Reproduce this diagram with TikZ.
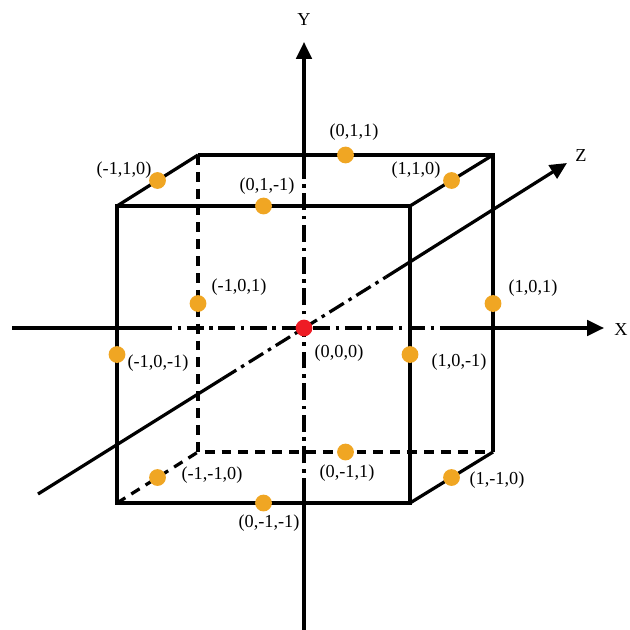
\documentclass[tikz,border=0pt]{standalone}
\usepackage{fontspec}
\setmainfont{Liberation Serif}
\usetikzlibrary{arrows.meta,calc}
\definecolor{ptorange}{HTML}{F0A623}
\definecolor{ptred}{HTML}{EE1C25}
\tikzset{
    edge/.style={line width=2.3pt},
    hidden/.style={edge, dash pattern=on 7pt off 5pt},
    axisline/.style={line width=2.3pt},
    axisdash/.style={axisline, dash pattern=on 12pt off 4pt on 2.5pt off 4pt},
    axisarrow/.style={axisline, -{Triangle[length=12pt,width=11pt]}},
    vtx/.style={circle, fill=ptorange, inner sep=0pt, minimum size=0.42cm},
    origin/.style={circle, fill=ptred, inner sep=0pt, minimum size=0.42cm},
    lbl/.style={font=\fontsize{13}{15}\selectfont, inner sep=0pt},
}
\begin{document}
\begin{tikzpicture}[x=0.025cm, y=-0.025cm]
    \useasboundingbox (0,0) rectangle (630,630);
    % cube corners
    \coordinate (F1) at (117,206);
    \coordinate (F2) at (410,206);
    \coordinate (F3) at (410,503);
    \coordinate (F4) at (117,503);
    \coordinate (B1) at (198,155);
    \coordinate (B2) at (493,155);
    \coordinate (B3) at (493,452);
    \coordinate (B4) at (198,452);
    % cube
    \draw[edge] (F1) -- (F2) -- (F3) -- (F4) -- cycle;
    \draw[edge] (B1) -- (B2) -- (B3);
    \draw[edge] (F1) -- (B1);
    \draw[edge] (F2) -- (B2);
    \draw[edge] (F3) -- (B3);
    \draw[hidden] (B1) -- (B4) -- (B3);
    \draw[hidden] (F4) -- (B4);
    % axes
    \coordinate (xl) at (12,328);
    \coordinate (xa) at (155,328);
    \coordinate (xb) at (453,328);
    \coordinate (xr) at (604,328);
    \coordinate (yb) at (304,630);
    \coordinate (ya) at (304,495);
    \coordinate (yc) at (304,162);
    \coordinate (yt) at (304,42);
    \coordinate (zl) at (38,494);
    \coordinate (za) at (222,379);
    \coordinate (zb) at (386,277);
    \coordinate (zt) at (567,163);
    \draw[axisline] (xl) -- (xa);
    \draw[axisdash] (xa) -- (xb);
    \draw[axisarrow] (xb) -- (xr);
    \draw[axisline] (yb) -- (ya);
    \draw[axisdash] (ya) -- (yc);
    \draw[axisarrow] (yc) -- (yt);
    \draw[axisline] (zl) -- (za);
    \draw[axisdash] (za) -- (zb);
    \draw[axisarrow] (zb) -- (zt);
    \node[lbl] (xlab) at (621,330) {X};
    \node[lbl] (ylab) at (304,20) {Y};
    \node[lbl] (zlab) at (581,156) {Z};
    % edge midpoints
    \node[vtx] (p011) at ($(B1)!.5!(B2)$) {};
    \node[vtx] (p110) at ($(F2)!.5!(B2)$) {};
    \node[vtx] (pm110) at ($(F1)!.5!(B1)$) {};
    \node[vtx] (p01m1) at ($(F1)!.5!(F2)$) {};
    \node[vtx] (pm101) at ($(B1)!.5!(B4)$) {};
    \node[vtx] (p101) at ($(B2)!.5!(B3)$) {};
    \node[vtx] (pm10m1) at ($(F1)!.5!(F4)$) {};
    \node[vtx] (p10m1) at ($(F2)!.5!(F3)$) {};
    \node[vtx] (pm1m10) at ($(F4)!.5!(B4)$) {};
    \node[vtx] (p0m11) at ($(B4)!.5!(B3)$) {};
    \node[vtx] (p1m10) at ($(F3)!.5!(B3)$) {};
    \node[vtx] (p0m1m1) at ($(F4)!.5!(F3)$) {};
    \node[origin] (p000) at (304,328) {};
    % labels
    \node[lbl] (l011) at (354,132) {(0,1,1)};
    \node[lbl] (l110) at (416,170) {(1,1,0)};
    \node[lbl] (lm110) at (124,170) {(-1,1,0)};
    \node[lbl] (l01m1) at (267,186) {(0,1,-1)};
    \node[lbl] (lm101) at (239,287) {(-1,0,1)};
    \node[lbl] (l101) at (533,288) {(1,0,1)};
    \node[lbl] (lm10m1) at (158,363) {(-1,0,-1)};
    \node[lbl] (l10m1) at (459,362) {(1,0,-1)};
    \node[lbl] (l000) at (339,353) {(0,0,0)};
    \node[lbl] (lm1m10) at (212,475) {(-1,-1,0)};
    \node[lbl] (l0m11) at (347,473) {(0,-1,1)};
    \node[lbl] (l1m10) at (497,480) {(1,-1,0)};
    \node[lbl] (l0m1m1) at (269,523) {(0,-1,-1)};
\end{tikzpicture}
\end{document}
